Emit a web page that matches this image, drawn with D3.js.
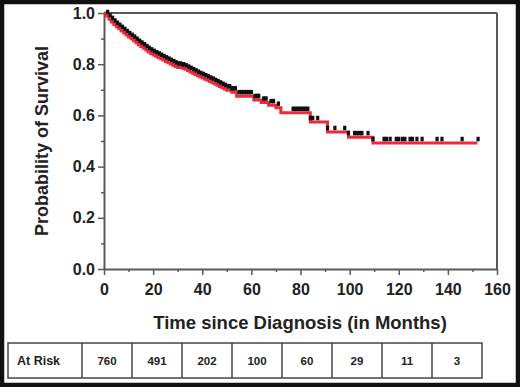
<!DOCTYPE html>
<html>
<head>
<meta charset="utf-8">
<script src="https://cdn.jsdelivr.net/npm/d3@7"></script>
<style>
  html, body { margin: 0; padding: 0; background: #fff; }
  svg { display: block; font-family: "Liberation Sans", Arial, sans-serif; }
</style>
</head>
<body>
<div id="chart"></div>
<script>
// Kaplan-Meier step curve
const survTimes = [0, 1, 2, 3, 4, 5, 6, 7, 8, 9, 10, 11, 12, 13, 14, 15, 16, 17, 18, 19, 20, 21, 22, 23, 24, 25, 26, 27, 28, 29, 30, 32, 33, 34, 35, 36, 37, 38, 39, 40, 41, 42, 43, 44, 45, 46, 47, 48, 49, 50, 52, 54, 61, 64, 67, 70, 72, 84, 91, 99.5, 109.5, 152];
const survProb  = [1.0, 0.988, 0.976, 0.965, 0.955, 0.946, 0.938, 0.93, 0.922, 0.914, 0.906, 0.899, 0.892, 0.884, 0.876, 0.869, 0.862, 0.855, 0.848, 0.842, 0.836, 0.831, 0.826, 0.821, 0.816, 0.811, 0.806, 0.801, 0.796, 0.791, 0.787, 0.784, 0.78, 0.775, 0.77, 0.765, 0.76, 0.755, 0.75, 0.746, 0.741, 0.737, 0.732, 0.728, 0.723, 0.718, 0.713, 0.708, 0.703, 0.698, 0.69, 0.675, 0.66, 0.65, 0.64, 0.63, 0.61, 0.574, 0.535, 0.515, 0.492, 0.492];

// censored observations (black marks)
const censorTimes = [1.5, 2.5, 3.5, 4.5, 5.5, 6.5, 7.5, 8.5, 9.5, 10.5, 11.5, 12.5, 13.5, 14.5, 15.5, 16.5, 17.5, 18.5, 19.5, 20.5, 21.5, 22.5, 23.5, 24.5, 25.5, 26.5, 27.5, 28.5, 29.5, 30.5, 31.2, 32, 32.5, 33.5, 34.5, 35.5, 36.5, 37.5, 38.5, 39.5, 40.5, 41.5, 42.5, 43.5, 44.5, 45.5, 46.5, 47.5, 48.5, 49.5, 50.5, 51.2, 52, 52.8, 53.5, 55, 56, 57, 58, 59, 60, 61.5, 62.5, 63, 65, 66, 68, 69, 71, 77, 78, 79, 80, 81, 82, 83, 84, 85, 87, 91, 94, 98, 99.5, 102, 103, 104, 105, 107.5, 109.5, 114, 115, 116.5, 119, 120, 121.5, 122.5, 124.6, 125.6, 127.4, 129.5, 135.6, 137.6, 145.8, 152.3];

const xTicks = [0, 20, 40, 60, 80, 100, 120, 140, 160];
const yTicks = [0.0, 0.2, 0.4, 0.6, 0.8, 1.0];
const riskLabel = "At Risk";
const atRisk = [760, 491, 202, 100, 60, 29, 11, 3];

const W = 520, H = 387;
const svg = d3.select("#chart").append("svg").attr("width", W).attr("height", H);

// outer frame
svg.append("rect").attr("x", 2).attr("y", 2).attr("width", W - 4).attr("height", H - 4)
  .attr("fill", "#fff").attr("stroke", "#111").attr("stroke-width", 4.5);

const x = d3.scaleLinear().domain([0, 160]).range([104, 497]);
const y = d3.scaleLinear().domain([0, 1]).range([269, 13]);
const axisColor = "#5a5a5a";

// box top and right
svg.append("line").attr("x1", x(0)).attr("x2", x(160)).attr("y1", y(1)).attr("y2", y(1))
  .attr("stroke", axisColor).attr("stroke-width", 2);
svg.append("line").attr("x1", x(160)).attr("x2", x(160)).attr("y1", y(1)).attr("y2", y(0))
  .attr("stroke", axisColor).attr("stroke-width", 2);

// minor ticks
const xMinor = svg.append("g").attr("transform", `translate(0,${y(0)})`)
  .call(d3.axisBottom(x).tickValues(d3.range(10, 160, 20)).tickSize(3).tickFormat(""));
const yMinor = svg.append("g").attr("transform", `translate(${x(0)},0)`)
  .call(d3.axisLeft(y).tickValues([0.1, 0.3, 0.5, 0.7, 0.9]).tickSize(3).tickFormat(""));
[xMinor, yMinor].forEach(g => {
  g.select(".domain").remove();
  g.selectAll(".tick line").attr("stroke", axisColor).attr("stroke-width", 1.5);
});

const xAxis = svg.append("g").attr("transform", `translate(0,${y(0)})`)
  .call(d3.axisBottom(x).tickValues(xTicks).tickSize(6).tickSizeOuter(0).tickPadding(9));
const yAxis = svg.append("g").attr("transform", `translate(${x(0)},0)`)
  .call(d3.axisLeft(y).tickValues(yTicks).tickSize(6).tickSizeOuter(0).tickPadding(3)
    .tickFormat(d3.format(".1f")));

[xAxis, yAxis].forEach(g => {
  g.select(".domain").attr("stroke", axisColor).attr("stroke-width", 2);
  g.selectAll(".tick line").attr("stroke", axisColor).attr("stroke-width", 1.5);
  g.selectAll(".tick text").attr("fill", "#222").attr("font-size", "16px")
    .attr("font-weight", "bold").attr("font-family", "Liberation Sans, Arial, sans-serif");
});

// axis titles
svg.append("text").attr("x", 300).attr("y", 329).attr("text-anchor", "middle")
  .attr("font-size", "18.5px").attr("font-weight", "bold").attr("fill", "#222")
  .text("Time since Diagnosis (in Months)");
svg.append("text").attr("transform", `translate(48,${y(0.5)}) rotate(-90)`)
  .attr("text-anchor", "middle").attr("font-size", "18px").attr("font-weight", "bold")
  .attr("fill", "#222").text("Probability of Survival");

// curve
const step = d3.line().curve(d3.curveStepAfter).x(d => x(d[0])).y(d => y(d[1]));
svg.append("path").datum(d3.zip(survTimes, survProb)).attr("d", step)
  .attr("fill", "none").attr("stroke", "#f0283a").attr("stroke-width", 3);

// censor marks sit just above the curve
const bisect = d3.bisector(d => d).right;
function survAt(t) {
  const i = Math.max(0, bisect(survTimes, t) - 1);
  return survProb[i];
}
svg.append("g").selectAll("rect").data(censorTimes).join("rect")
  .attr("x", d => x(d) - 1.6).attr("y", d => y(survAt(d)) - 6.3)
  .attr("width", 3.2).attr("height", 4.5).attr("fill", "#111");

// at-risk table
const tableTop = 343, tableBottom = 378;
const col = d3.scaleBand().domain(d3.range(atRisk.length)).range([82, 482]);
const table = svg.append("g");
table.append("rect").attr("x", 8).attr("y", tableTop).attr("width", 474).attr("height", tableBottom - tableTop)
  .attr("fill", "none").attr("stroke", "#444").attr("stroke-width", 1.5);
table.selectAll("line").data(atRisk).join("line")
  .attr("x1", (d, i) => col(i)).attr("x2", (d, i) => col(i))
  .attr("y1", tableTop).attr("y2", tableBottom)
  .attr("stroke", "#444").attr("stroke-width", 1.5);
table.append("text").attr("x", 17).attr("y", (tableTop + tableBottom) / 2 + 4.5)
  .attr("font-size", "12.5px").attr("font-weight", "bold").attr("fill", "#222").text(riskLabel);
table.selectAll("text.val").data(atRisk).join("text").attr("class", "val")
  .attr("x", (d, i) => col(i) + col.bandwidth() / 2).attr("y", (tableTop + tableBottom) / 2 + 4.5)
  .attr("text-anchor", "middle").attr("font-size", "11.5px").attr("font-weight", "bold")
  .attr("fill", "#222").text(d => d);
</script>
</body>
</html>
